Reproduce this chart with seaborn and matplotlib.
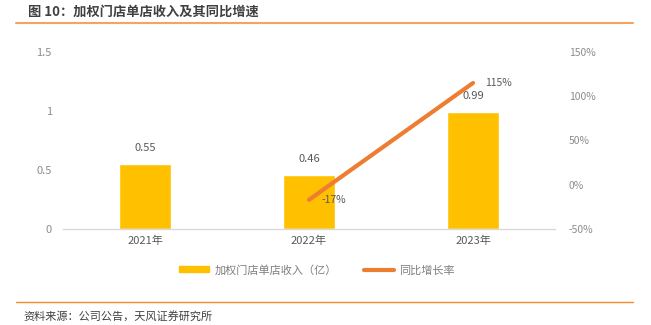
import matplotlib
matplotlib.use("Agg")
import matplotlib.pyplot as plt
import seaborn as sns
import pandas as pd
from matplotlib.lines import Line2D
from matplotlib.patches import Patch

categories = ["2021年", "2022年", "2023年"]
revenue = [0.55, 0.46, 0.99]
growth_years = ["2022年", "2023年"]
growth = [-17, 115]
left_ticks = [0, 0.5, 1, 1.5]
left_labels = ["0", "0.5", "1", "1.5"]
right_ticks = [-50, 0, 50, 100, 150]
right_labels = ["-50%", "0%", "50%", "100%", "150%"]

sns.set_theme(style="white")
plt.rcParams["font.family"] = ["Noto Sans CJK SC", "DejaVu Sans"]

BAR = "#FFC000"
LINE = "#ED7D31"
TXT = "#8C8C8C"

fig = plt.figure(figsize=(6.51, 3.25), dpi=100)
ax = fig.add_axes([63/651, 1-229/325, (555-63)/651, (229-52)/325])

df = pd.DataFrame({"year": categories, "rev": revenue})
sns.barplot(data=df, x="year", y="rev", color=BAR, width=0.32, ax=ax, saturation=1)
ax.set_ylim(0, 1.5)
ax.set_xlim(-0.5, 2.5)
ax.set_yticks(left_ticks)
ax.set_yticklabels(left_labels)
ax.set_xlabel("")
ax.set_ylabel("")
for s in ["top", "right", "left"]:
    ax.spines[s].set_visible(False)
ax.spines["bottom"].set_color("#D9D9D9")
ax.spines["bottom"].set_linewidth(1)
ax.tick_params(axis="both", length=0, colors=TXT, labelsize=8)
ax.tick_params(axis="x", colors="#595959")
ax.tick_params(axis="y", pad=8)
ax.tick_params(axis="x", pad=5)
for i, v in enumerate(revenue):
    ax.annotate(f"{v:.2f}", (i, v), xytext=(0, 8), textcoords="offset points",
                ha="center", va="bottom", fontsize=8, color="#595959")

ax2 = ax.twinx()
gx = [categories.index(c) for c in growth_years]
gdf = pd.DataFrame({"x": gx, "g": growth})
sns.lineplot(data=gdf, x="x", y="g", color=LINE, linewidth=3, ax=ax2, solid_capstyle="round")
ax2.set_ylim(-50, 150)
ax2.set_xlim(-0.5, 2.5)
ax2.set_yticks(right_ticks)
ax2.set_yticklabels(right_labels)
ax2.set_ylabel("")
ax2.set_xlabel("")
for s in ["top", "right", "left", "bottom"]:
    ax2.spines[s].set_visible(False)
ax2.tick_params(axis="y", length=0, colors=TXT, labelsize=7.5, pad=10)
for x, v in zip(gx, growth):
    ax2.annotate(f"{v}%", (x, v), xytext=(9, 0), textcoords="offset points",
                 ha="left", va="center", fontsize=7.5, color="#595959")

handles = [Patch(color=BAR), Line2D([0], [0], color=LINE, lw=3, solid_capstyle="round")]
fig.legend(handles, ["加权门店单店收入（亿）", "同比增长率"], loc="center",
           bbox_to_anchor=(317/651, 1-270/325), ncol=2, frameon=False,
           fontsize=8, labelcolor="#7F7F7F", handlelength=2.7, handleheight=0.45,
           handletextpad=0.5, columnspacing=2.4)

fig.text(28/651, 1-12/325, "图 10：加权门店单店收入及其同比增速", fontsize=9.5,
         fontweight="bold", color="#404040", va="center", ha="left")
fig.add_artist(Line2D([16/651, 633/651], [1-23/325, 1-23/325], color="#F4A460", lw=1.5))
fig.add_artist(Line2D([16/651, 633/651], [1-302/325, 1-302/325], color="#F28C28", lw=1))
fig.text(23/651, 1-316/325, "资料来源：公司公告，天风证券研究所", fontsize=8,
         color="#404040", va="center", ha="left")

fig.savefig("out.png", dpi=100)
